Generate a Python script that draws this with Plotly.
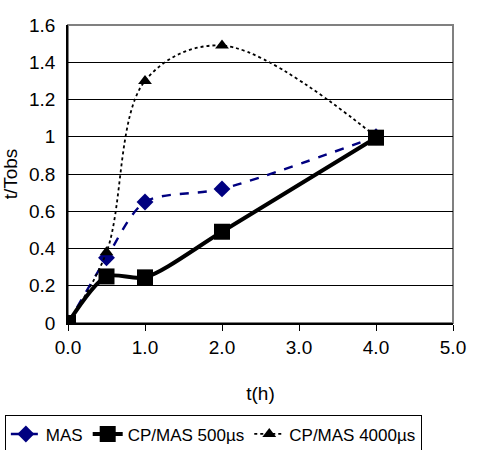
import plotly.graph_objects as go

t_h = [0.0, 0.5, 1.0, 2.0, 4.0]
mas = [0.0, 0.35, 0.65, 0.72, 1.0]
cp500 = [0.0, 0.25, 0.245, 0.49, 0.995]
cp4000 = [0.0, 0.38, 1.30, 1.49, 1.0]

x_ticks = [0, 1, 2, 3, 4, 5]
x_ticklabels = ["0.0", "1.0", "2.0", "3.0", "4.0", "5.0"]
y_ticks = [0, 0.2, 0.4, 0.6, 0.8, 1.0, 1.2, 1.4, 1.6]
y_ticklabels = ["0", "0.2", "0.4", "0.6", "0.8", "1", "1.2", "1.4", "1.6"]

font = "Liberation Sans, Arial, sans-serif"

fig = go.Figure()
fig.add_trace(go.Scatter(
    x=t_h, y=mas, name="MAS", mode="lines+markers",
    line=dict(color="#000080", width=2.4, dash="dash", shape="spline", smoothing=0.8),
    marker=dict(symbol="diamond", size=13, color="#000080"),
))
fig.add_trace(go.Scatter(
    x=t_h, y=cp500, name="CP/MAS 500µs", mode="lines+markers",
    line=dict(color="#000000", width=4, shape="spline", smoothing=0.8),
    marker=dict(symbol="square", size=16, color="#000000"),
))
fig.add_trace(go.Scatter(
    x=t_h, y=cp4000, name="CP/MAS 4000µs", mode="lines+markers",
    line=dict(color="#000000", width=1.8, dash="dot", shape="spline", smoothing=1.0),
    marker=dict(symbol="triangle-up", size=12, color="#000000"),
))

fig.add_shape(type="rect", xref="paper", yref="paper", x0=0, y0=0, x1=1, y1=1,
              line=dict(color="#808080", width=2), layer="below")

fig.update_layout(
    width=498, height=450,
    margin=dict(l=68, r=45, t=25, b=127, autoexpand=False),
    paper_bgcolor="white", plot_bgcolor="white",
    font=dict(family=font, size=19, color="#000"),
    xaxis=dict(
        range=[0, 5], tickvals=x_ticks, ticktext=x_ticklabels,
        showgrid=False, zeroline=False, showline=True, linecolor="#000", linewidth=1.5,
        ticks="outside", ticklen=6, tickcolor="#000",
        title=dict(text="t(h)", font=dict(size=19), standoff=30),
        automargin=False,
    ),
    yaxis=dict(
        range=[0, 1.6], tickvals=y_ticks, ticktext=y_ticklabels,
        showgrid=True, gridcolor="#000", gridwidth=1, zeroline=False,
        showline=True, linecolor="#000", linewidth=1.5,
        ticks="outside", ticklen=7, tickcolor="rgba(0,0,0,0)",
        title=dict(text="t/Tobs", font=dict(size=19), standoff=8),
        automargin=False,
    ),
    legend=dict(
        orientation="h", x=-0.164, xref="paper", y=-0.31, yref="paper",
        xanchor="left", yanchor="top",
        bordercolor="#000", borderwidth=1, bgcolor="white",
        font=dict(size=17), itemwidth=30, tracegroupgap=0,
    ),
    showlegend=True,
)

fig.write_html("out.html")
